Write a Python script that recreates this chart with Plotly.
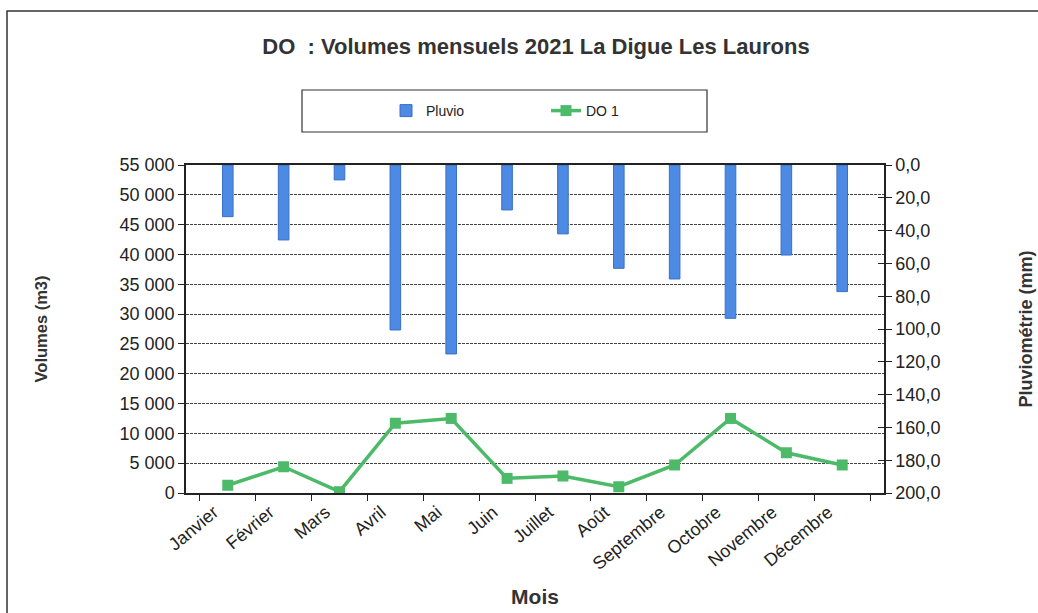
import plotly.graph_objects as go

mois = ["Janvier", "Février", "Mars", "Avril", "Mai", "Juin", "Juillet",
        "Août", "Septembre", "Octobre", "Novembre", "Décembre"]
pluvio_mm = [31.5, 45.7, 9.1, 100.6, 115.2, 27.4, 42.0, 63.0, 69.5, 93.5, 54.9, 77.2]
do1_m3 = [1300, 4400, 220, 11700, 12500, 2450, 2850, 1050, 4700, 12500, 6750, 4700]

W, H = 1038, 613
L, R, T, B = 186, 884, 165, 493

def px(x):
    return (x - L) / (R - L)

def py(y):
    return (B - y) / (B - T)

font = "Liberation Sans, Arial, sans-serif"
grid_col = "#444444"

fig = go.Figure()
fig.add_trace(go.Bar(
    x=mois, y=pluvio_mm, name="Pluvio", yaxis="y2", width=0.19,
    marker=dict(color="#4d8ae3", line=dict(color="#3a6fc8", width=1)),
))
fig.add_trace(go.Scatter(
    x=mois, y=do1_m3, name="DO 1", mode="lines+markers",
    line=dict(color="#4cba68", width=3.5),
    marker=dict(symbol="square", size=11, color="#4cba68"),
))
# invisible trace to carry the inner half of the right-axis cross ticks
fig.add_trace(go.Scatter(x=mois, y=[None]*12, yaxis="y3", showlegend=False, hoverinfo="skip"))

fig.update_layout(
    width=W, height=H,
    margin=dict(l=L, r=W - R, t=T, b=H - B, autoexpand=False),
    paper_bgcolor="white", plot_bgcolor="white",
    separators=", ",
    font=dict(family=font, size=13, color="#222"),
    title=dict(text="<b>DO  : Volumes mensuels 2021 La Digue Les Laurons</b>",
               xref="container", x=536 / W, xanchor="center", y=1 - 46 / H, yanchor="middle",
               font=dict(size=22, color="#333")),
    showlegend=True,
    legend=dict(orientation="h", x=px(386), xanchor="left", y=py(111), yanchor="middle",
                bgcolor="rgba(0,0,0,0)", font=dict(size=14, color="#222"),
                entrywidth=115, traceorder="normal"),
    xaxis=dict(
        type="category", showline=True, linecolor="#222", linewidth=1.5, mirror=True,
        ticks="outside", tickson="boundaries", ticklen=6, tickcolor="#222",
        tickangle=-40, tickfont=dict(size=18), automargin=False, ticklabelshift=-14,
        title=dict(text="<b>Mois</b>", font=dict(size=21, color="#333"), standoff=16),
        showgrid=False,
    ),
    yaxis=dict(
        range=[0, 55000], dtick=5000, tickformat=",d", automargin=False,
        showline=True, linecolor="#222", linewidth=1.5,
        ticks="outside", ticklen=6, tickcolor="#222", tickfont=dict(size=18),
        showgrid=True, gridcolor=grid_col, gridwidth=1, griddash="3px,1px",
        zeroline=False,
        title=dict(text="<b>Volumes (m3)</b>", font=dict(size=16.5, color="#333"), standoff=68),
    ),
    yaxis2=dict(
        range=[200, 0], dtick=20, tickformat=".1f", overlaying="y", side="right",
        showline=True, linecolor="#222", linewidth=1.5, automargin=False,
        ticks="outside", ticklen=6, tickcolor="#222", tickfont=dict(size=18),
        showgrid=False, zeroline=False,
        title=dict(text="<b>Pluviométrie (mm)</b>", font=dict(size=18, color="#333"), standoff=80),
    ),
    yaxis3=dict(
        range=[200, 0], dtick=20, overlaying="y", side="right", anchor="x",
        ticks="inside", ticklen=6, tickcolor="#222", showticklabels=False,
        showgrid=False, zeroline=False, showline=False, automargin=False,
    ),
    shapes=[
        dict(type="rect", xref="paper", yref="paper",
             x0=px(7), x1=px(1045), y0=py(620), y1=py(11),
             line=dict(color="#333", width=1.5), layer="below"),
        dict(type="rect", xref="paper", yref="paper",
             x0=px(302), x1=px(707), y0=py(132), y1=py(90),
             line=dict(color="#333", width=1.2), layer="below"),
    ],
)

fig.write_html("out.html", config={"displayModeBar": False},
               post_script="document.body.style.margin='0px';")
